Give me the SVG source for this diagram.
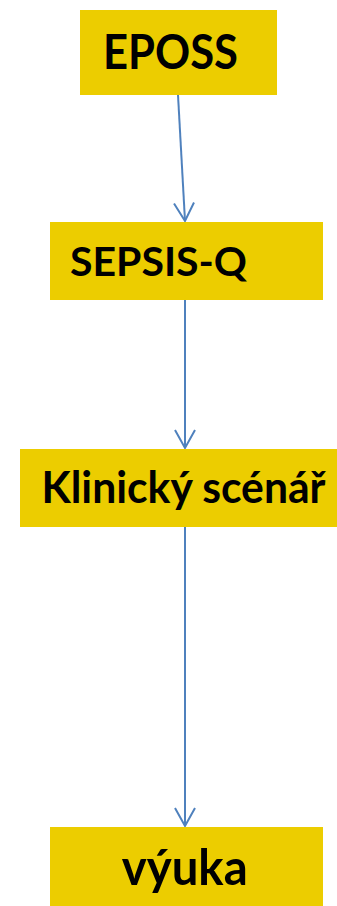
<svg xmlns="http://www.w3.org/2000/svg" width="337" height="906" viewBox="0 0 337 906">
<style>
.box{fill:#ECCD00}
.lbl{font-family:Lato,"Open Sans","Liberation Sans",sans-serif;font-weight:bold;fill:#000}
.conn{stroke:#4F81BD;stroke-width:2;fill:none}
</style>
<defs>
<marker id="arr" markerUnits="userSpaceOnUse" markerWidth="24" markerHeight="24" refX="19" refY="11" orient="auto">
<path d="M1,1 L19,11 L1,21" fill="none" stroke="#4F81BD" stroke-width="2"/>
</marker>
</defs>
<rect width="337" height="906" fill="#fff"/>
<g id="connectors">
<line class="conn" x1="178" y1="95" x2="185" y2="221" marker-end="url(#arr)"/>
<line class="conn" x1="185" y1="300" x2="185" y2="448" marker-end="url(#arr)"/>
<line class="conn" x1="185" y1="527" x2="185" y2="826" marker-end="url(#arr)"/>
</g>
<g id="eposs">
<rect class="box" x="80" y="10" width="197" height="85"/>
<text class="lbl" x="103" y="69" font-size="48" textLength="135" lengthAdjust="spacingAndGlyphs">EPOSS</text>
</g>
<g id="sepsis-q">
<rect class="box" x="50" y="222" width="273" height="78"/>
<text class="lbl" x="70" y="276" font-size="41" textLength="177" lengthAdjust="spacingAndGlyphs">SEPSIS-Q</text>
</g>
<g id="klinicky">
<rect class="box" x="20" y="449" width="317" height="78"/>
<text class="lbl" x="41.5" y="503" font-size="44" textLength="284" lengthAdjust="spacingAndGlyphs">Klinický scénář</text>
</g>
<g id="vyuka">
<rect class="box" x="50" y="827" width="273" height="79"/>
<text class="lbl" x="121.7" y="885" font-size="49" textLength="126" lengthAdjust="spacingAndGlyphs">výuka</text>
</g>
</svg>
